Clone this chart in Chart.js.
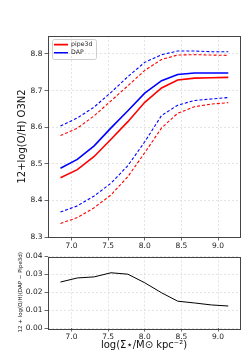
<!DOCTYPE html>
<html lang="en">
<head>
<meta charset="UTF-8" />
<title>O3N2 metallicity vs stellar mass density</title>
<script src="https://cdn.jsdelivr.net/npm/chart.js"></script>
<style>
  html, body { margin: 0; padding: 0; background: #fff; }
  #wrap { position: relative; width: 252px; height: 364px; }
  canvas { position: absolute; left: 0; }
  #ohChart { top: 0; }
  #diffChart { top: 250px; }
</style>
</head>
<body>
<div id="wrap">
  <canvas id="ohChart" width="252" height="250"></canvas>
  <canvas id="diffChart" width="252" height="114"></canvas>
</div>
<script>
  // log(Sigma*) bins
  const massBins = [6.85, 7.08, 7.31, 7.54, 7.77, 8.00, 8.23, 8.45, 8.68, 8.91, 9.14];

  // 12+log(O/H) O3N2 : median and upper / lower envelopes
  const pipe3dMed = [8.462, 8.484, 8.520, 8.567, 8.615, 8.668, 8.707, 8.729, 8.734, 8.735, 8.736];
  const pipe3dHi  = [8.577, 8.597, 8.631, 8.672, 8.713, 8.755, 8.785, 8.797, 8.798, 8.797, 8.796];
  const pipe3dLo  = [8.337, 8.353, 8.380, 8.415, 8.465, 8.530, 8.598, 8.638, 8.656, 8.663, 8.667];
  const dapMed    = [8.488, 8.512, 8.549, 8.598, 8.645, 8.693, 8.727, 8.744, 8.748, 8.748, 8.748];
  const dapHi     = [8.603, 8.625, 8.655, 8.695, 8.738, 8.777, 8.798, 8.808, 8.808, 8.806, 8.806];
  const dapLo     = [8.368, 8.385, 8.412, 8.447, 8.495, 8.560, 8.632, 8.660, 8.673, 8.677, 8.681];

  // DAP - Pipe3d
  const ohDiff = [0.0257, 0.0280, 0.0286, 0.0309, 0.0301, 0.0253, 0.0197, 0.0150, 0.0140, 0.0129, 0.0123];

  const xTicks = [7.0, 7.5, 8.0, 8.5, 9.0];
  const ohTicks = [8.3, 8.4, 8.5, 8.6, 8.7, 8.8];
  const diffTicks = [0.00, 0.01, 0.02, 0.03, 0.04];

  const FONT = 'DejaVu Sans';
  const tickFont = { family: FONT, size: 7.5 };
  const pts = arr => massBins.map((x, i) => ({ x: x, y: arr[i] }));

  function series(label, arr, color, dashed, width) {
    return {
      label: label,
      data: pts(arr),
      borderColor: color,
      backgroundColor: color,
      borderWidth: width,
      borderDash: dashed ? [3, 2] : [],
      pointRadius: 0,
      tension: 0
    };
  }

  function gridOpts() {
    return { color: '#dcdcdc', lineWidth: 0.8, tickLength: 3.5, tickColor: '#444', tickWidth: 0.8, tickBorderDash: [] };
  }

  function xAxis(titleText) {
    return {
      type: 'linear', min: 6.68, max: 9.3,
      afterBuildTicks: s => { s.ticks = xTicks.map(v => ({ value: v })); },
      ticks: { font: tickFont, color: '#222', padding: 1.5, maxRotation: 0, autoSkip: false,
               callback: v => v.toFixed(1) },
      grid: gridOpts(),
      border: { display: false, dash: [2, 2] },
      title: titleText ? { display: true, text: titleText, color: '#111',
                           font: { family: FONT, size: 10 }, padding: { top: 0, bottom: 13 } }
                       : { display: false }
    };
  }

  // full box around the axes, like matplotlib spines
  const framePlugin = {
    id: 'frame',
    afterDraw(chart) {
      const { ctx, chartArea: a } = chart;
      ctx.save();
      ctx.strokeStyle = '#444';
      ctx.lineWidth = 1;
      ctx.strokeRect(Math.round(a.left) + 0.5, Math.round(a.top) + 0.5,
                     Math.round(a.right - a.left), Math.round(a.bottom - a.top));
      ctx.restore();
    }
  };

  // place the legend in the upper-left corner and give it a frame
  const legendBox = {
    id: 'legendBox',
    afterLayout(chart) {
      const lg = chart.legend, a = chart.chartArea;
      const w = lg.width, h = lg.height;
      lg.left = a.left + 4; lg.top = a.top + 3.5;
      lg.right = lg.left + w; lg.bottom = lg.top + h;
    },
    afterDraw(chart) {
      const { ctx, chartArea: a } = chart;
      ctx.save();
      ctx.strokeStyle = '#cfcfcf';
      ctx.lineWidth = 1;
      ctx.beginPath();
      ctx.roundRect(a.left + 4.5, a.top + 3.5, 44, 20, 2);
      ctx.stroke();
      ctx.restore();
    }
  };

  new Chart(document.getElementById('ohChart'), {
    type: 'line',
    data: {
      datasets: [
        series('pipe3d', pipe3dMed, '#ff0000', false, 1.6),
        series('DAP', dapMed, '#0000ff', false, 1.6),
        series('pipe3d hi', pipe3dHi, '#ff0000', true, 1.1),
        series('pipe3d lo', pipe3dLo, '#ff0000', true, 1.1),
        series('DAP hi', dapHi, '#0000ff', true, 1.1),
        series('DAP lo', dapLo, '#0000ff', true, 1.1)
      ]
    },
    options: {
      responsive: false,
      devicePixelRatio: 1,
      animation: false,
      layout: { padding: { top: 36, right: 12, left: 0, bottom: 0 } },
      plugins: {
        legend: {
          position: 'chartArea',
          align: 'start',
          labels: {
            usePointStyle: true, pointStyle: 'line', pointStyleWidth: 14,
            padding: 2, color: '#222', font: { family: FONT, size: 6.2 },
            filter: item => item.datasetIndex < 2
          }
        },
        tooltip: { enabled: false }
      },
      scales: {
        x: Object.assign(xAxis(null), { afterFit: s => { s.height = 13; } }),
        y: {
          min: 8.3, max: 8.849,
          afterBuildTicks: s => { s.ticks = ohTicks.map(v => ({ value: v })); },
          afterFit: s => { s.width = 48; },
          ticks: { font: tickFont, color: '#222', padding: 2, callback: v => v.toFixed(1) },
          grid: gridOpts(),
          border: { display: false, dash: [2, 2] },
          title: { display: true, text: '12+log(O/H) O3N2', color: '#111',
                   font: { family: FONT, size: 10 }, padding: { top: 16, bottom: 0 } }
        }
      }
    },
    plugins: [framePlugin, legendBox]
  });

  new Chart(document.getElementById('diffChart'), {
    type: 'line',
    data: {
      datasets: [ series('DAP - Pipe3d', ohDiff, '#000000', false, 1) ]
    },
    options: {
      responsive: false,
      devicePixelRatio: 1,
      animation: false,
      layout: { padding: { top: 5, right: 12, left: 0, bottom: 0 } },
      plugins: { legend: { display: false }, tooltip: { enabled: false } },
      scales: {
        x: Object.assign(xAxis('log(\u03A3\u22C6/M\u2299 kpc\u207B\u00B2)'), { afterFit: s => { s.height = 36; } }),
        y: {
          min: 0, max: 0.04,
          afterBuildTicks: s => { s.ticks = diffTicks.map(v => ({ value: v })); },
          afterFit: s => { s.width = 48; },
          ticks: { font: tickFont, color: '#222', padding: 2, callback: v => v.toFixed(2) },
          grid: gridOpts(),
          border: { display: false, dash: [2, 2] },
          title: { display: true, text: '12 + log(O/H)(DAP \u2212 Pipe3d)', color: '#111',
                   font: { family: FONT, size: 5.5 }, padding: { top: 17, bottom: 0 } }
        }
      }
    },
    plugins: [framePlugin]
  });
</script>
</body>
</html>
